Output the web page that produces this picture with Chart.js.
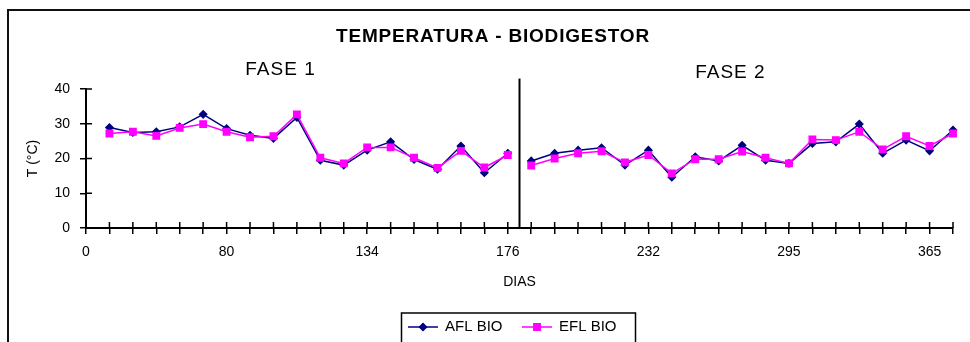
<!DOCTYPE html>
<html>
<head>
<meta charset="utf-8">
<script src="https://cdn.jsdelivr.net/npm/chart.js@4.4.0/dist/chart.umd.min.js"></script>
<style>
  html, body { margin: 0; padding: 0; background: #fff; overflow: hidden; }
  #frame { position: absolute; left: 7px; top: 9px; width: 1000px; height: 400px; border: 2px solid #111; }
  canvas { position: absolute; left: 0; top: 0; }
</style>
</head>
<body>
<div id="frame"></div>
<canvas id="tempChart" width="970" height="342"></canvas>
<script>
const chartTitle = "TEMPERATURA - BIODIGESTOR";
const dayLabels = ["0", "80", "134", "176", "232", "295", "365"];
const labelStep = 6;
const pointCount = 38;
// day 0 has no reading
const aflBio = [null, 28.9, 27.5, 27.7, 29.1, 32.7, 28.6, 26.7, 25.8, 31.8, 19.5, 18.1, 22.4, 24.8, 19.7, 16.9, 23.6, 15.9, 21.5,
  19.3, 21.5, 22.4, 23.1, 18.1, 22.4, 14.6, 20.5, 19.3, 23.8, 19.5, 18.6, 24.3, 24.8, 29.9, 21.5, 25.3, 22.2, 28.2];
const eflBio = [null, 27.2, 27.7, 26.5, 28.8, 29.9, 27.7, 26.1, 26.4, 32.7, 20.2, 18.6, 23.2, 23.2, 20.2, 17.3, 22.2, 17.4, 21.0,
  18.0, 20.0, 21.5, 22.1, 18.9, 21.0, 15.7, 19.8, 19.8, 22.0, 20.2, 18.6, 25.5, 25.3, 27.7, 22.6, 26.4, 23.6, 27.2];
const phaseNames = ["FASE 1", "FASE 2"];
const phaseLabelAt = [8.3, 27.5];
const phase1End = 18; // last index of fase 1
const phaseSplit = 18.5;

const categories = Array.from({ length: pointCount }, (_, i) =>
  i % labelStep === 0 ? dayLabels[i / labelStep] : ""
);

Chart.defaults.font.family = "'Liberation Sans', Arial, sans-serif";
Chart.defaults.color = "#000";

const hideBreak = (ctx) => (ctx.p0DataIndex === phase1End ? "rgba(0,0,0,0)" : undefined);

const annotations = {
  id: "annotations",
  afterDraw(chart) {
    const { ctx } = chart;
    const x = chart.scales.x;
    const y = chart.scales.y;
    ctx.save();
    // inner half of tick marks (ticks cross the axis)
    ctx.strokeStyle = "#000";
    ctx.lineWidth = 1.5;
    ctx.beginPath();
    x.ticks.forEach((t, i) => {
      const px = x.getPixelForTick(i);
      ctx.moveTo(px, y.bottom);
      ctx.lineTo(px, y.bottom - 6);
    });
    y.ticks.forEach((t, i) => {
      const py = y.getPixelForTick(i);
      ctx.moveTo(x.left, py);
      ctx.lineTo(x.left + 6, py);
    });
    ctx.stroke();

    // separator between phases
    const sx = x.getPixelForValue(phaseSplit);
    ctx.lineWidth = 2;
    ctx.beginPath();
    ctx.moveTo(sx, y.getPixelForValue(0));
    ctx.lineTo(sx, y.getPixelForValue(43));
    ctx.stroke();

    // titles
    ctx.fillStyle = "#000";
    ctx.textAlign = "center";
    ctx.textBaseline = "middle";
    ctx.font = "bold 19px 'Liberation Sans', Arial, sans-serif";
    ctx.letterSpacing = "0.8px";
    ctx.fillText(chartTitle, 493, 37);
    ctx.font = "19px 'Liberation Sans', Arial, sans-serif";
    ctx.letterSpacing = "1px";
    phaseNames.forEach((name, i) => {
      ctx.fillText(name, x.getPixelForValue(phaseLabelAt[i]), 70 + i * 3);
    });
    ctx.letterSpacing = "0px";

    // legend box
    ctx.lineWidth = 1.5;
    ctx.strokeRect(401.5, 313, 234, 30);
    ctx.font = "15px 'Liberation Sans', Arial, sans-serif";
    ctx.textAlign = "left";
    const itemX = [408, 522];
    chart.data.datasets.forEach((ds, i) => {
      const lx = itemX[i];
      const ly = 327;
      ctx.strokeStyle = ds.borderColor;
      ctx.lineWidth = 1.5;
      ctx.beginPath();
      ctx.moveTo(lx, ly);
      ctx.lineTo(lx + 30, ly);
      ctx.stroke();
      ctx.fillStyle = ds.pointBackgroundColor;
      Chart.helpers.drawPoint(ctx, { pointStyle: ds.pointStyle, radius: ds.pointRadius, borderWidth: 1 }, lx + 15, ly);
      ctx.fillStyle = "#000";
      ctx.fillText(ds.label, lx + 37, ly);
    });
    ctx.restore();
  },
};

new Chart(document.getElementById("tempChart"), {
  type: "line",
  data: {
    labels: categories,
    datasets: [
      {
        label: "AFL BIO",
        data: aflBio,
        borderColor: "#000080",
        backgroundColor: "#000080",
        pointBackgroundColor: "#000080",
        pointBorderColor: "#000080",
        pointStyle: "rectRot",
        pointRadius: 3.5,
        borderWidth: 1.5,
        tension: 0,
        order: 1,
        segment: { borderColor: hideBreak },
      },
      {
        label: "EFL BIO",
        data: eflBio,
        borderColor: "#FF00FF",
        backgroundColor: "#FF00FF",
        pointBackgroundColor: "#FF00FF",
        pointBorderColor: "#FF00FF",
        pointStyle: "rect",
        pointRadius: 4.5,
        borderWidth: 1.5,
        tension: 0,
        order: 0,
        segment: { borderColor: hideBreak },
      },
    ],
  },
  options: {
    responsive: false,
    animation: false,
    layout: { padding: { left: 20, right: 17, top: 89, bottom: 42 } },
    plugins: {
      legend: { display: false },
      title: { display: false },
      tooltip: { enabled: false },
    },
    scales: {
      x: {
        offset: false,
        afterFit(scale) { scale.height = 72; },
        border: { color: "#000", width: 2 },
        grid: { drawOnChartArea: false, tickLength: 6, tickColor: "#000", lineWidth: 1.5 },
        ticks: {
          autoSkip: false,
          maxRotation: 0,
          padding: 10,
          font: { size: 14 },
          callback(value, index) { return categories[index]; },
        },
        title: { display: true, text: "DIAS", font: { size: 14 }, padding: { top: 0, bottom: 9 } },
      },
      y: {
        min: 0,
        max: 40,
        afterFit(scale) { scale.width = 66; },
        border: { color: "#000", width: 2 },
        grid: { drawOnChartArea: false, tickLength: 6, tickColor: "#000", lineWidth: 1.5 },
        ticks: { stepSize: 10, padding: 10, font: { size: 14 } },
        title: { display: true, text: "T (°C)", font: { size: 14 }, padding: { top: 5, bottom: 0 } },
      },
    },
  },
  plugins: [annotations],
});
</script>
</body>
</html>
